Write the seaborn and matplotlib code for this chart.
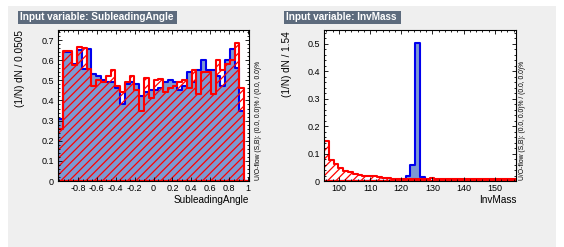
# TMVA style input variable plots: SubleadingAngle and InvMass
import numpy as np
import pandas as pd
import seaborn as sns
import matplotlib.pyplot as plt
from matplotlib.patches import Rectangle
from matplotlib.ticker import FixedLocator, AutoMinorLocator, FormatStrFormatter

# SubleadingAngle: 40 bins, width 0.0505
angle_range = (-1.01, 1.01)
angle_sig = [0.31, 0.64, 0.64, 0.58, 0.65, 0.555, 0.655, 0.53, 0.52, 0.50,
             0.49, 0.49, 0.46, 0.38, 0.48, 0.49, 0.48, 0.42, 0.44, 0.45,
             0.45, 0.46, 0.49, 0.50, 0.49, 0.45, 0.47, 0.54, 0.49, 0.55,
             0.60, 0.55, 0.55, 0.52, 0.47, 0.60, 0.655, 0.56, 0.35, 0.0]
angle_bkg = [0.26, 0.645, 0.645, 0.575, 0.665, 0.66, 0.555, 0.47, 0.50, 0.49,
             0.52, 0.55, 0.47, 0.44, 0.49, 0.52, 0.45, 0.35, 0.51, 0.41,
             0.50, 0.505, 0.44, 0.46, 0.47, 0.49, 0.50, 0.46, 0.55, 0.43,
             0.54, 0.54, 0.43, 0.60, 0.55, 0.58, 0.60, 0.685, 0.46, 0.0]
angle_ticks = [-0.8, -0.6, -0.4, -0.2, 0, 0.2, 0.4, 0.6, 0.8, 1]
angle_yticks = [0, 0.1, 0.2, 0.3, 0.4, 0.5, 0.6, 0.7]

# InvMass: 40 bins, width 1.54
mass_range = (95.2, 156.8)
mass_sig = [0.001, 0.001, 0.001, 0.001, 0.001, 0.001, 0.001, 0.001, 0.001, 0.001,
            0.001, 0.001, 0.001, 0.001, 0.001, 0.001, 0.002, 0.02, 0.06, 0.503,
            0.015, 0.002, 0.001, 0.001, 0.001, 0.001, 0.001, 0.001, 0.001, 0.001,
            0.001, 0.001, 0.001, 0.001, 0.001, 0.001, 0.001, 0.001, 0.001, 0.001]
mass_bkg = [0.145, 0.078, 0.063, 0.048, 0.036, 0.031, 0.027, 0.023, 0.02, 0.018,
            0.017, 0.015, 0.011, 0.01, 0.009, 0.009, 0.008, 0.008, 0.008, 0.007,
            0.007, 0.006, 0.01, 0.006, 0.006, 0.006, 0.006, 0.006, 0.006, 0.006,
            0.006, 0.006, 0.006, 0.006, 0.006, 0.006, 0.006, 0.006, 0.006, 0.006]
mass_ticks = [100, 110, 120, 130, 140, 150]
mass_yticks = [0, 0.1, 0.2, 0.3, 0.4, 0.5]

plt.rcParams['font.family'] = ['Liberation Sans', 'DejaVu Sans']
plt.rcParams['axes.unicode_minus'] = False
plt.rcParams['hatch.linewidth'] = 0.9
plt.rcParams['hatch.color'] = '#ff0000'

W, H = 564, 247
fig = plt.figure(figsize=(W / 100, H / 100), dpi=100)
fig.patch.set_facecolor('white')

def fx(px):
    return px / W

def fy(py):
    return 1 - py / H

# grey canvas
fig.patches.append(Rectangle((fx(8), 0), fx(548), fy(6), transform=fig.transFigure,
                             facecolor='#efefef', edgecolor='none', zorder=-10))


def draw_panel(rect, lo, hi, sig, bkg, xticks, yticks, ylim, xminor, yminor):
    ax = fig.add_axes(rect)
    nb = len(sig)
    centers = lo + (np.arange(nb) + 0.5) * (hi - lo) / nb
    df = pd.DataFrame({"x": centers, "sig": sig, "bkg": bkg})
    sns.histplot(data=df, x="x", weights="sig", bins=nb, binrange=(lo, hi),
                 element="step", fill=True, color="#0000ee", facecolor="#7d99d1",
                 edgecolor="#0000ee", linewidth=1.5, ax=ax)
    sns.histplot(data=df, x="x", weights="bkg", bins=nb, binrange=(lo, hi),
                 element="step", fill=True, color="#ff0000", facecolor="none",
                 edgecolor="#ff0000", hatch="////", linewidth=1.5, ax=ax)
    ax.set_xlim(lo, hi)
    ax.set_ylim(*ylim)
    ax.set_xlabel("")
    ax.set_ylabel("")
    ax.set_facecolor('white')
    ax.xaxis.set_major_locator(FixedLocator(xticks))
    ax.yaxis.set_major_locator(FixedLocator(yticks))
    ax.xaxis.set_major_formatter(FormatStrFormatter('%g'))
    ax.yaxis.set_major_formatter(FormatStrFormatter('%g'))
    ax.xaxis.set_minor_locator(AutoMinorLocator(xminor))
    ax.yaxis.set_minor_locator(AutoMinorLocator(yminor))
    ax.tick_params(which='both', direction='in', top=True, right=True, width=0.6,
                   labelsize=6.5, colors='black')
    ax.tick_params(which='major', length=3.2)
    ax.tick_params(which='minor', length=1.6)
    ax.tick_params(axis='x', pad=2)
    ax.tick_params(axis='y', pad=3)
    for s in ax.spines.values():
        s.set_linewidth(0.8)
        s.set_color('black')
    return ax


ax1 = draw_panel([fx(58), 1 - 181 / H, fx(191), 151 / H], *angle_range,
                 angle_sig, angle_bkg, angle_ticks, angle_yticks, (0, 0.75), 4, 5)
ax2 = draw_panel([fx(324), 1 - 181 / H, fx(192), 151 / H], *mass_range,
                 mass_sig, mass_bkg, mass_ticks, mass_yticks, (0, 0.55), 5, 5)

# title boxes
for x0, x1, txt in [(18, 177, "Input variable: SubleadingAngle"),
                    (284, 401, "Input variable: InvMass")]:
    fig.patches.append(Rectangle((fx(x0), fy(24)), fx(x1 - x0), 13 / H,
                                 transform=fig.transFigure, facecolor='#5d6b7d',
                                 edgecolor='none', zorder=1))
    fig.text(fx(x0 + 2.5), fy(17.5), txt, color='white', fontsize=7.2,
             fontweight='bold', ha='left', va='center', zorder=2)

# axis titles
fig.text(fx(249), fy(200), "SubleadingAngle", fontsize=7.2, ha='right', va='center')
fig.text(fx(516), fy(200), "InvMass", fontsize=7.2, ha='right', va='center')
fig.text(fx(20.5), fy(30), "(1/N) dN / 0.0505", fontsize=7.2, rotation=90,
         ha='center', va='top')
fig.text(fx(287), fy(31), "(1/N) dN / 1.54", fontsize=7.2, rotation=90,
         ha='center', va='top')

# under/overflow info
oflow = "U/O-flow (S,B): (0.0, 0.0)% / (0.0, 0.0)%"
fig.text(fx(258.5), fy(180), oflow, fontsize=4.9, rotation=90, ha='center', va='bottom')
fig.text(fx(522), fy(180), oflow, fontsize=4.9, rotation=90, ha='center', va='bottom')

fig.savefig("out.png", dpi=100)
